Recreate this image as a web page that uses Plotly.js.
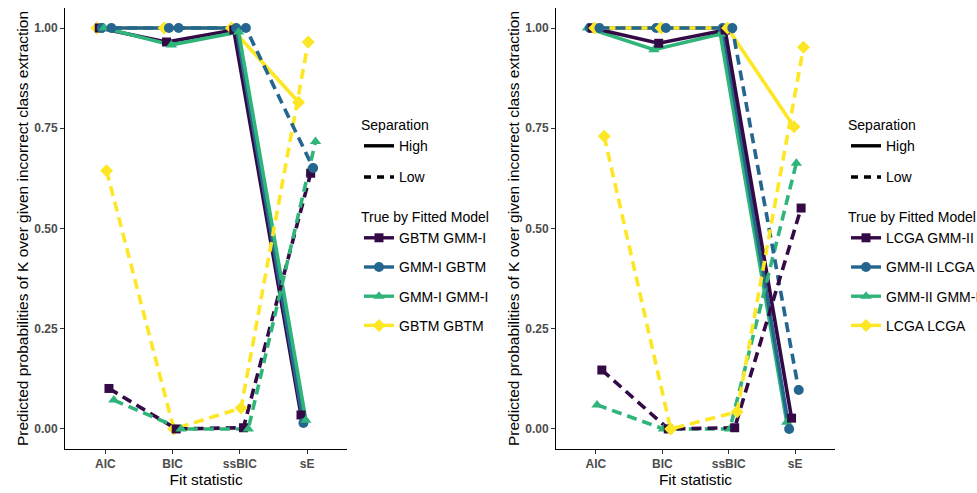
<!DOCTYPE html>
<html>
<head>
<meta charset="utf-8">
<script src="https://cdn.plot.ly/plotly-3.0.1.min.js"></script>
<style>
html,body{margin:0;padding:0;background:#fff;}
#chart{width:977px;height:493px;}
</style>
</head>
<body>
<div id="chart"></div>
<script>
// ---- data ----
var stats = ['AIC', 'BIC', 'ssBIC', 'sE'];
var separations = ['High', 'Low'];

// left panel: legend order
var leftModels = ['GBTM GMM-I', 'GMM-I GBTM', 'GMM-I GMM-I', 'GBTM GBTM'];
var leftHigh_GBTM_GMMI = [1.00, 0.965, 0.995, 0.035];
var leftHigh_GMMI_GBTM = [1.00, 1.00, 1.00, 0.015];
var leftHigh_GMMI_GMMI = [1.00, 0.958, 0.990, 0.022];
var leftHigh_GBTM_GBTM = [1.00, 1.00, 1.00, 0.815];
var leftLow_GBTM_GMMI = [0.101, 0.000, 0.003, 0.638];
var leftLow_GMMI_GBTM = [1.00, 1.00, 1.00, 0.651];
var leftLow_GMMI_GMMI = [0.072, 0.000, 0.000, 0.717];
var leftLow_GBTM_GBTM = [0.644, 0.000, 0.052, 0.965];

// right panel: legend order
var rightModels = ['LCGA GMM-II', 'GMM-II LCGA', 'GMM-II GMM-II', 'LCGA LCGA'];
var rightHigh_LCGA_GMMII = [1.00, 0.962, 0.995, 0.027];
var rightHigh_GMMII_LCGA = [1.00, 1.00, 1.00, 0.000];
var rightHigh_GMMII_GMMII = [1.00, 0.946, 0.985, 0.017];
var rightHigh_LCGA_LCGA = [1.00, 1.00, 1.00, 0.754];
var rightLow_LCGA_GMMII = [0.147, 0.000, 0.003, 0.551];
var rightLow_GMMII_LCGA = [1.00, 1.00, 1.00, 0.097];
var rightLow_GMMII_GMMII = [0.060, 0.000, 0.000, 0.663];
var rightLow_LCGA_LCGA = [0.730, 0.000, 0.043, 0.952];

var yTicks = [0, 0.25, 0.5, 0.75, 1];
var yTickText = ['0.00', '0.25', '0.50', '0.75', '1.00'];

// ---- styling ----
var colors = ['#330A45', '#24668F', '#2FB47A', '#FDE725'];   // by legend index
var symbols = ['square', 'circle', 'triangle-up', 'diamond'];
var msize = [9, 10, 10, 10];
var dashes = {High: 'solid', Low: '10px,6px'};
var lw = 3.6;

// series per panel in legend order
var leftSeries = {
  High: [leftHigh_GBTM_GMMI, leftHigh_GMMI_GBTM, leftHigh_GMMI_GMMI, leftHigh_GBTM_GBTM],
  Low: [leftLow_GBTM_GMMI, leftLow_GMMI_GBTM, leftLow_GMMI_GMMI, leftLow_GBTM_GBTM]
};
var rightSeries = {
  High: [rightHigh_LCGA_GMMII, rightHigh_GMMII_LCGA, rightHigh_GMMII_GMMII, rightHigh_LCGA_LCGA],
  Low: [rightLow_LCGA_GMMII, rightLow_GMMII_LCGA, rightLow_GMMII_GMMII, rightLow_LCGA_LCGA]
};

var dodgeStep = 0.036;

function alphaOrder(models) {
  // indices of models sorted alphabetically (ggplot group order)
  return models.map(function (m, i) { return i; }).sort(function (a, b) {
    return models[a] < models[b] ? -1 : models[a] > models[b] ? 1 : 0;
  });
}

function buildPanel(models, series, xa, ya, sepLegend, modLegend) {
  var order = alphaOrder(models);
  var lineTraces = [], markTraces = [], legendTraces = [];
  separations.forEach(function (sep, s) {
    order.forEach(function (mi, k) {
      var g = s * 4 + k;
      var off = (g - 3.5) * dodgeStep;
      var xs = stats.map(function (_, j) { return j + 1 + off; });
      var ys = series[sep][mi];
      lineTraces.push({
        type: 'scatter', mode: 'lines', x: xs, y: ys, xaxis: xa, yaxis: ya,
        line: {color: colors[mi], width: lw, dash: dashes[sep]},
        showlegend: false, hoverinfo: 'skip'
      });
      markTraces.push({
        type: 'scatter', mode: 'markers', x: xs, y: ys, xaxis: xa, yaxis: ya,
        marker: {color: colors[mi], symbol: symbols[mi], size: msize[mi], line: {width: 0}},
        name: models[mi] + ' ' + sep, showlegend: false
      });
    });
  });
  separations.forEach(function (sep, s) {
    legendTraces.push({
      type: 'scatter', mode: 'lines', x: [null], y: [null], xaxis: xa, yaxis: ya,
      name: sep, legend: sepLegend, legendgroup: sepLegend + sep,
      line: {color: '#000000', width: 3.4, dash: sep === 'High' ? 'solid' : '7px,6px'}
    });
  });
  models.forEach(function (m, i) {
    legendTraces.push({
      type: 'scatter', mode: 'lines+markers', x: [null], y: [null], xaxis: xa, yaxis: ya,
      name: m, legend: modLegend, legendgroup: modLegend + m,
      line: {color: colors[i], width: 3.4},
      marker: {color: colors[i], symbol: symbols[i], size: msize[i]}
    });
  });
  return lineTraces.concat(markTraces).concat(legendTraces);
}

var data = buildPanel(leftModels, leftSeries, 'x', 'y', 'legend', 'legend2')
  .concat(buildPanel(rightModels, rightSeries, 'x2', 'y2', 'legend3', 'legend4'));

var tickFont = {family: 'Liberation Sans, Arial, sans-serif', size: 12, color: '#4D4D4D', weight: 'bold'};
var titleFont = {family: 'Liberation Sans, Arial, sans-serif', size: 15.5, color: '#000000'};
var legFont = {family: 'Liberation Sans, Arial, sans-serif', size: 14, color: '#000000'};

function xAxis(domain, anchor) {
  return {
    domain: domain, anchor: anchor, range: [0.4, 4.6],
    tickvals: [1, 2, 3, 4], ticktext: stats,
    showgrid: false, zeroline: false, showline: true, linecolor: '#000', linewidth: 1,
    ticks: 'outside', ticklen: 4, tickcolor: '#333', tickwidth: 1,
    tickfont: tickFont, title: {text: 'Fit statistic', font: titleFont, standoff: 3}
  };
}
function yAxis(anchor) {
  return {
    domain: [0, 1], anchor: anchor, range: [-0.05, 1.05],
    tickvals: yTicks, ticktext: yTickText,
    showgrid: false, zeroline: false, showline: true, linecolor: '#000', linewidth: 1,
    ticks: 'outside', ticklen: 4, tickcolor: '#333', tickwidth: 1,
    tickfont: tickFont,
    title: {text: 'Predicted probabilities of K over given incorrect class extraction', font: titleFont, standoff: 1}
  };
}

function leg(x, y, title, gap) {
  return {
    x: x, y: y, xanchor: 'left', yanchor: 'top', orientation: 'v',
    bgcolor: 'rgba(0,0,0,0)', borderwidth: 0, font: legFont,
    title: {text: title, font: legFont}, tracegroupgap: gap, itemwidth: 30,
    traceorder: 'grouped'
  };
}

var W = 977, L = 65;
function px(p) { return (p - L) / (W - L); }
function py(p) { return (449 - p) / 441; }

var layout = {
  width: 977, height: 493,
  margin: {l: L, r: 0, t: 8, b: 44, autoexpand: false},
  paper_bgcolor: '#ffffff', plot_bgcolor: '#ffffff',
  showlegend: true,
  xaxis: xAxis([0, px(347.4)], 'y'),
  yaxis: yAxis('x'),
  xaxis2: xAxis([px(556), px(835)], 'y2'),
  yaxis2: yAxis('x2'),
  legend: leg(px(359), py(112), 'Separation', 10),
  legend2: leg(px(359), py(204), 'True by Fitted Model', 8),
  legend3: leg(px(846), py(112), 'Separation', 10),
  legend4: leg(px(846), py(204), 'True by Fitted Model', 8)
};

Plotly.newPlot('chart', data, layout, {displayModeBar: false, staticPlot: true});
</script>
</body>
</html>
